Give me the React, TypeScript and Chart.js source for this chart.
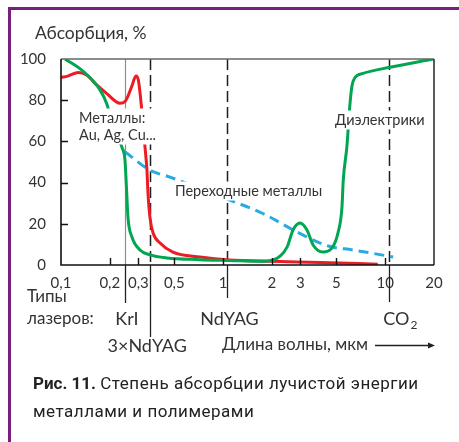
import React, { useEffect, useRef } from "react";
import { Chart, registerables } from "chart.js";

Chart.register(...registerables);

// ---- data ----
const xTickValues = [0.1, 0.2, 0.3, 0.5, 1, 2, 3, 5, 10, 20];
const yTickValues = [0, 20, 40, 60, 80, 100];

const dielectricX = [0.106, 0.137, 0.174, 0.192, 0.209, 0.238, 0.248, 0.254, 0.259, 0.274, 0.307, 0.354, 0.45, 0.72, 1.1, 1.7, 2.03, 2.48, 2.7, 2.98, 3.29, 3.59, 4.13, 4.7, 5.11, 5.41, 5.51, 5.81, 6.06, 6.24, 6.51, 7.3, 10.7, 19.8];
const dielectricY = [100, 94, 85, 78, 67, 57, 51, 36, 23, 13.6, 7.3, 4.9, 3.4, 2.6, 2.2, 1.8, 2.4, 8.7, 17, 20.4, 17, 9.7, 6.3, 8.3, 15.5, 28, 41, 58, 78, 87, 91, 93, 96, 100];

const metalsX = [0.1, 0.11, 0.128, 0.144, 0.166, 0.191, 0.231, 0.248, 0.273, 0.29, 0.3, 0.315, 0.33, 0.339, 0.344, 0.354, 0.37, 0.408, 0.49, 0.72, 1.1, 2, 4, 9];
const metalsY = [91, 91.7, 93.5, 92.2, 87.4, 83.3, 78.5, 79.3, 86.6, 91.7, 89.8, 75.2, 57, 46, 35, 23, 15.5, 10.7, 6.3, 3.9, 2.4, 1.8, 1.2, 0.4];

const transitionX = [0.248, 0.354, 0.47, 1.1, 1.76, 2.86, 4.45, 6.33, 11.2];
const transitionY = [55, 46, 42.7, 31.5, 25, 16, 9.2, 7.3, 3.9];

const laserNames = ["KrI", "3×NdYAG", "NdYAG", "CO"];
const laserWavelengths = [0.248, 0.355, 1.064, 10.6];

const yAxisTitle = "Абсорбция, %";
const xAxisTitle = "Длина волны, мкм";
const laserTitle1 = "Типы";
const laserTitle2 = "лазеров:";
const metalsLabel = ["Металлы:", "Au, Ag, Cu..."];
const transitionLabel = "Переходные металлы";
const dielectricLabel = "Диэлектрики";

const FONT = "Lato, 'Noto Sans', sans-serif";
const TEXT = "#333";

function pts(xs: number[], ys: number[]) {
  return xs.map((x, i) => ({ x, y: ys[i] }));
}

function textBox(ctx: CanvasRenderingContext2D, lines: string[], x: number, y: number, lh: number) {
  ctx.font = `14.5px ${FONT}`;
  const w = Math.max(...lines.map((l) => ctx.measureText(l).width));
  ctx.fillStyle = "#fff";
  ctx.fillRect(x - 2, y - lh / 2 - 1, w + 4, lh * lines.length + 2);
  ctx.fillStyle = TEXT;
  ctx.textAlign = "left";
  ctx.textBaseline = "middle";
  lines.forEach((l, i) => ctx.fillText(l, x, y + i * lh));
}

const decor = {
  id: "decor",
  beforeDatasetsDraw(chart: any) {
    const { ctx, chartArea: a, scales } = chart;
    const x = scales.x;
    ctx.save();
    laserWavelengths.forEach((w, i) => {
      const px = Math.round(x.getPixelForValue(w)) + 0.5;
      ctx.beginPath();
      if (i === 0) {
        ctx.strokeStyle = "#8e8e8e";
        ctx.lineWidth = 1.2;
        ctx.setLineDash([]);
      } else {
        ctx.strokeStyle = "#1e1e1e";
        ctx.lineWidth = 1.5;
        ctx.setLineDash([11, 5]);
      }
      ctx.moveTo(px, a.top);
      ctx.lineTo(px, a.bottom);
      ctx.stroke();
    });
    ctx.restore();
  },
  afterDatasetsDraw(chart: any) {
    const { ctx } = chart;
    ctx.save();
    textBox(ctx, metalsLabel, 79, 118, 17);
    textBox(ctx, [transitionLabel], 175, 191, 17);
    textBox(ctx, [dielectricLabel], 335, 120, 17);
    ctx.restore();
  },
  afterDraw(chart: any) {
    const { ctx, chartArea: a, scales } = chart;
    const x = scales.x;
    const y = scales.y;
    ctx.save();
    ctx.setLineDash([]);
    // frame: top & right
    ctx.strokeStyle = "#666";
    ctx.lineWidth = 1.6;
    ctx.beginPath();
    ctx.moveTo(a.left, a.top);
    ctx.lineTo(a.right, a.top);
    ctx.stroke();
    ctx.strokeStyle = "#333";
    ctx.beginPath();
    ctx.moveTo(a.right, a.top);
    ctx.lineTo(a.right, a.bottom);
    ctx.stroke();
    // axes
    ctx.strokeStyle = "#111";
    ctx.lineWidth = 1.6;
    ctx.beginPath();
    ctx.moveTo(a.left, a.top);
    ctx.lineTo(a.left, a.bottom);
    ctx.lineTo(a.right, a.bottom);
    ctx.stroke();
    // inner ticks
    ctx.lineWidth = 1.4;
    ctx.beginPath();
    x.ticks.forEach((t: any) => {
      if (t.value <= 0.1 || t.value >= 20) return;
      const px = Math.round(x.getPixelForValue(t.value)) + 0.5;
      ctx.moveTo(px, a.bottom);
      ctx.lineTo(px, a.bottom - 7);
    });
    y.ticks.forEach((t: any) => {
      if (t.value <= 0 || t.value >= 100) return;
      const py = Math.round(y.getPixelForValue(t.value)) + 0.5;
      ctx.moveTo(a.left, py);
      ctx.lineTo(a.left + 7, py);
    });
    ctx.stroke();
    // laser lines below the axis
    const below = [38, 72, 33, 37];
    ctx.strokeStyle = "#222";
    ctx.lineWidth = 1.3;
    laserWavelengths.forEach((w, i) => {
      const px = Math.round(x.getPixelForValue(w)) + 0.5;
      ctx.beginPath();
      ctx.moveTo(px, a.bottom);
      ctx.lineTo(px, a.bottom + below[i]);
      ctx.stroke();
    });
    // texts
    ctx.fillStyle = TEXT;
    ctx.textBaseline = "middle";
    ctx.font = `17.5px ${FONT}`;
    ctx.textAlign = "left";
    ctx.fillText(yAxisTitle, 35, 33);
    ctx.font = `17px ${FONT}`;
    ctx.fillText(laserTitle1, 27, 297);
    ctx.fillText(laserTitle2, 27, 319);
    const dx = [2, -3, 2, 6];
    const rowY = [319, 346, 319, 319];
    laserWavelengths.forEach((w, i) => {
      const px = x.getPixelForValue(w) + dx[i];
      ctx.font = `18px ${FONT}`;
      ctx.textAlign = i === 3 ? "left" : "center";
      ctx.fillText(laserNames[i], i === 3 ? px - 12 : px, rowY[i]);
      if (i === 3) {
        const wCO = ctx.measureText(laserNames[i]).width;
        ctx.font = `12px ${FONT}`;
        ctx.fillText("2", px - 12 + wCO + 1, rowY[i] + 6);
      }
    });
    ctx.font = `17px ${FONT}`;
    ctx.textAlign = "left";
    ctx.fillText(xAxisTitle, 222, 345);
    // arrow
    ctx.strokeStyle = "#222";
    ctx.lineWidth = 1.3;
    ctx.beginPath();
    ctx.moveTo(375, 345.5);
    ctx.lineTo(429, 345.5);
    ctx.stroke();
    ctx.fillStyle = "#222";
    ctx.beginPath();
    ctx.moveTo(435, 345.5);
    ctx.lineTo(428, 342.5);
    ctx.lineTo(428, 348.5);
    ctx.closePath();
    ctx.fill();
    ctx.restore();
  },
};

export default function App() {
  const ref = useRef<HTMLCanvasElement>(null);
  useEffect(() => {
    if (!ref.current) return;
    const chart = new Chart(ref.current, {
      type: "line",
      data: {
        datasets: [
          {
            label: "Диэлектрики",
            data: pts(dielectricX, dielectricY),
            borderColor: "#00a651",
            borderWidth: 3,
            pointRadius: 0,
            cubicInterpolationMode: "monotone",
          },
          {
            label: "Металлы",
            data: pts(metalsX, metalsY),
            borderColor: "#ed1c24",
            borderWidth: 3,
            pointRadius: 0,
            cubicInterpolationMode: "monotone",
          },
          {
            label: "Переходные металлы",
            data: pts(transitionX, transitionY),
            borderColor: "#29abe2",
            borderWidth: 3,
            borderDash: [10, 6],
            pointRadius: 0,
            cubicInterpolationMode: "monotone",
          },
        ],
      },
      options: {
        animation: false,
        responsive: false,
        layout: { padding: { left: 0, top: 59, right: 25, bottom: 0 } },
        plugins: { legend: { display: false }, tooltip: { enabled: false } },
        scales: {
          x: {
            type: "logarithmic",
            min: 0.1,
            max: 20,
            afterBuildTicks: (s: any) => {
              s.ticks = xTickValues.map((v) => ({ value: v }));
            },
            afterFit: (s: any) => {
              s.height = 177;
            },
            grid: { display: false },
            border: { display: false },
            ticks: {
              autoSkip: false,
              maxRotation: 0,
              padding: 1,
              color: TEXT,
              font: { family: FONT, size: 15 },
              callback: (v: any) => String(v).replace(".", ","),
            },
          },
          y: {
            type: "linear",
            min: 0,
            max: 100,
            afterBuildTicks: (s: any) => {
              s.ticks = yTickValues.map((v) => ({ value: v }));
            },
            afterFit: (s: any) => {
              s.width = 61;
            },
            grid: { display: false },
            border: { display: false },
            ticks: {
              padding: 7,
              color: TEXT,
              font: { family: FONT, size: 15 },
            },
          },
        },
      },
      plugins: [decor],
    } as any);
    return () => chart.destroy();
  }, []);

  return (
    <div style={{ position: "fixed", left: 0, top: 0, width: 459, height: 442, overflow: "hidden", background: "#fff" }}>
      <div
        style={{
          position: "absolute",
          left: 8,
          top: 7,
          right: 0,
          bottom: 0,
          borderTop: "3px solid #7b1f7e",
          borderLeft: "3px solid #7b1f7e",
        }}
      />
      <canvas ref={ref} width={459} height={442} style={{ position: "absolute", left: 0, top: 0 }} />
      <div
        style={{
          position: "absolute",
          left: 33,
          top: 369,
          fontFamily: "Roboto, 'Noto Sans', sans-serif",
          fontSize: 17,
          lineHeight: "28px",
          color: "#222",
          whiteSpace: "nowrap",
        }}
      >
        <b>Рис. 11.</b> <span style={{ letterSpacing: "0.5px" }}>Степень абсорбции лучистой энергии</span>
        <br />
        <span style={{ letterSpacing: "0.5px" }}>металлами и полимерами</span>
      </div>
    </div>
  );
}
